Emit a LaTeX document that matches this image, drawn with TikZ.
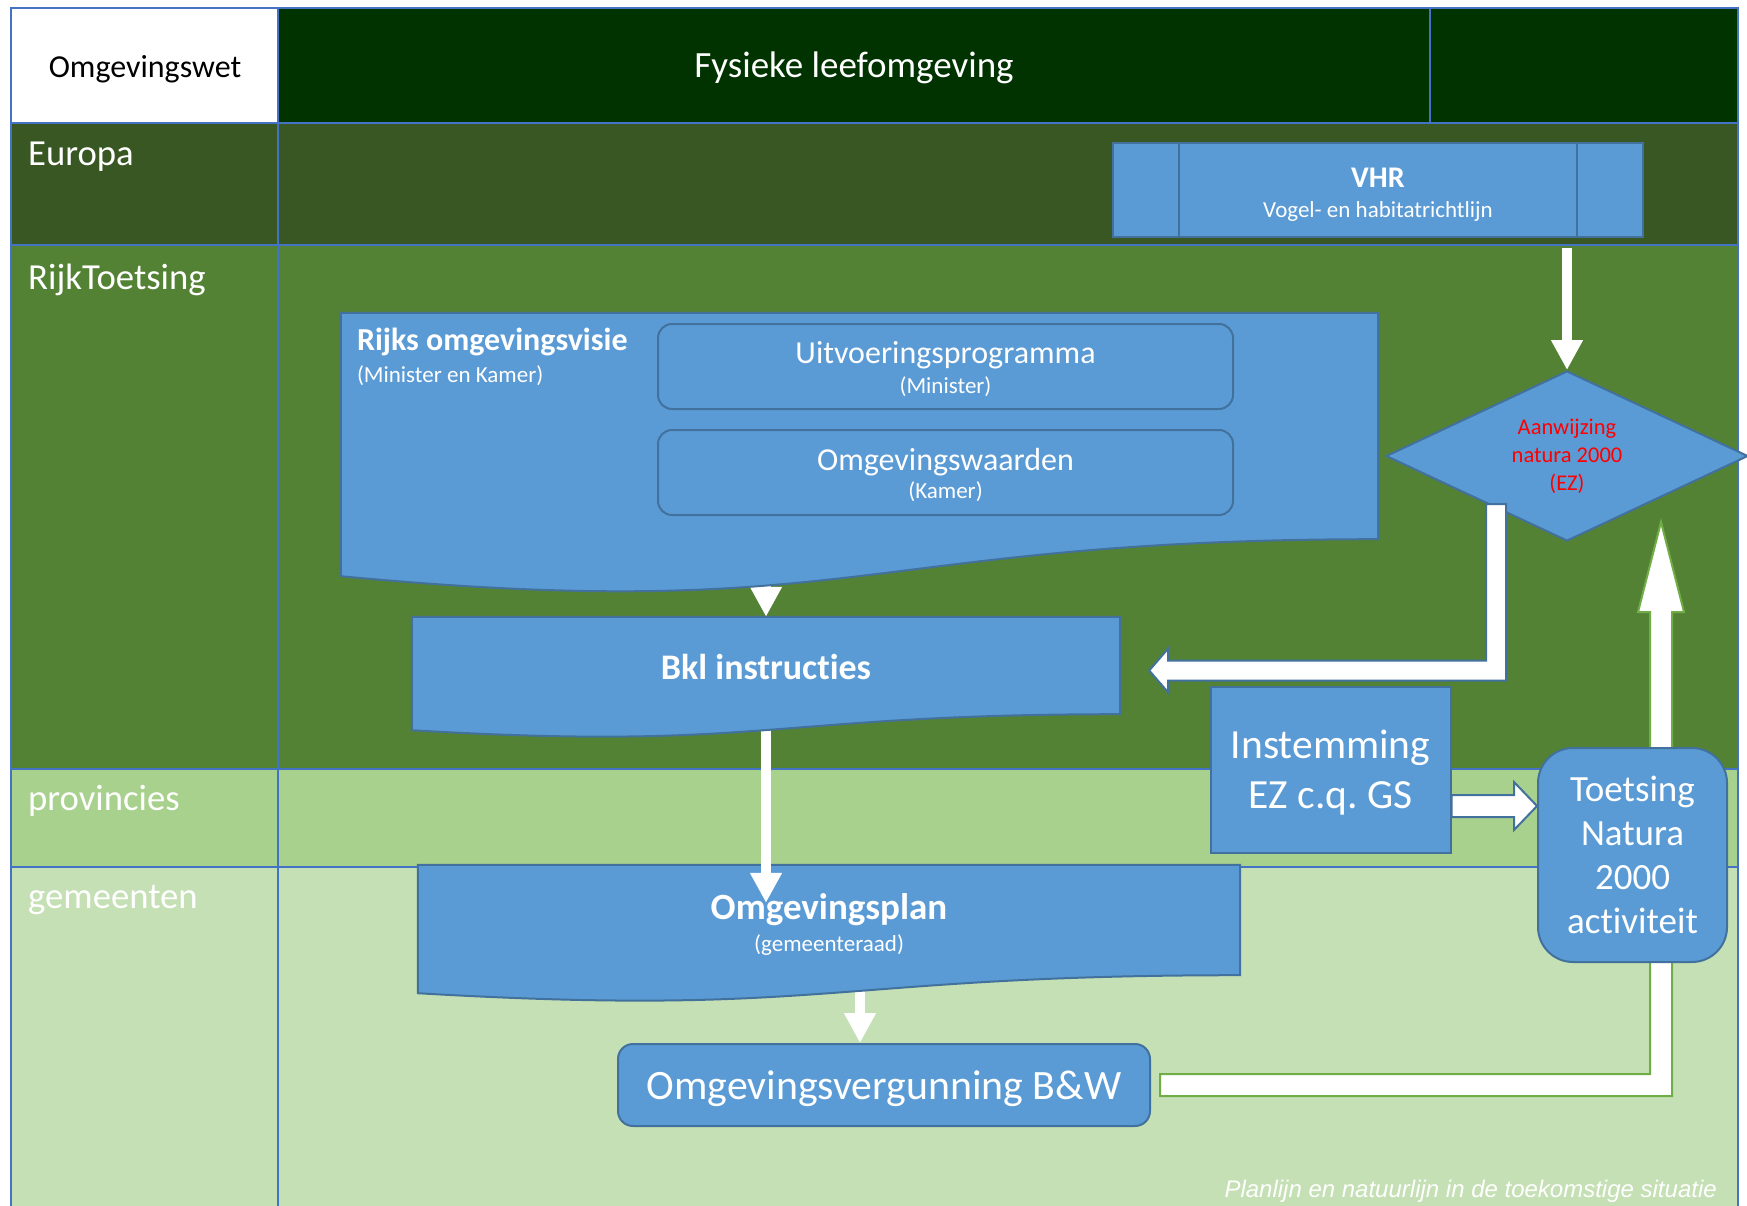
\documentclass[tikz,border=0pt]{standalone}
\usepackage{fontspec}
\setmainfont{Carlito}[Ligatures=NoCommon]
\newfontfamily\captionfont{Liberation Sans}
\usepackage{xcolor}
\usetikzlibrary{arrows.meta,calc,shapes.geometric}
\frenchspacing

\definecolor{hdrgreen}{RGB}{0,51,0}
\definecolor{eurgreen}{RGB}{56,87,35}
\definecolor{rijkgreen}{RGB}{84,130,53}
\definecolor{provgreen}{RGB}{169,209,142}
\definecolor{gemgreen}{RGB}{197,224,180}
\definecolor{boxblue}{RGB}{91,155,213}
\definecolor{boxline}{RGB}{65,113,156}
\definecolor{gridblue}{RGB}{68,114,196}
\definecolor{arrowgreen}{RGB}{112,173,71}

\tikzset{
  lane/.style={draw=gridblue, line width=1.5pt},
  blok/.style={draw=boxline, fill=boxblue, line width=2pt, text=white, inner sep=0pt},
  flow/.style={draw=white, line width=10pt, -{Triangle[width=30pt,length=30pt]}},
  blueblock/.style={draw=boxline, fill=white, line width=2pt},
  greenblock/.style={draw=arrowgreen, fill=white, line width=2pt},
  rowlabel/.style={anchor=base west, inner sep=0pt, text=white, font=\fontsize{36.7}{43}\selectfont},
  boxtext/.style={inner sep=0pt, text=white, align=center},
}

\begin{document}
\begin{tikzpicture}[x=1pt,y=-1pt]
\useasboundingbox (0,0) rectangle (1747,1206);
\fill[white] (0,0) rectangle (1747,1206);

%Shape: Rows
\fill[white] (11,8) rectangle (278,123);
\fill[hdrgreen] (278,8) rectangle (1738,123);
\fill[eurgreen] (11,123) rectangle (1738,245);
\fill[rijkgreen] (11,245) rectangle (1738,769);
\fill[provgreen] (11,769) rectangle (1738,867);
\fill[gemgreen] (11,867) rectangle (1738,1206);
%Shape: Grid
\draw[lane] (11,1206) -- (11,8) -- (1738,8) -- (1738,1206);
\draw[lane] (11,123) -- (1738,123) (11,245) -- (1738,245) (11,769) -- (1738,769) (11,867) -- (1738,867);
\draw[lane] (278,8) -- (278,1206) (1430,8) -- (1430,123);

% Text Node
\node[rowlabel, anchor=base, text=black, font=\fontsize{32}{38}\selectfont] (wet) at (145,78) {Omgevingswet};
\node[rowlabel, anchor=base, font=\fontsize{37}{44}\selectfont] (fys) at (854,78) {Fysieke leefomgeving};
\node[rowlabel] (eur) at (28,166) {Europa};
\node[rowlabel] (rijk) at (28,289) {RijkToetsing};
\node[rowlabel] (prov) at (28,810) {provincies};
\node[rowlabel] (gem) at (28,908) {gemeenten};

%Shape: Predefined process
\node[blok, minimum width=530pt, minimum height=94pt, align=center, font=\fontsize{23}{30}\selectfont] (vhr) at (1378,190)
  {{\bfseries\fontsize{30}{30}\selectfont\rule{0pt}{29pt}VHR}\\Vogel- en habitatrichtlijn};
\draw[boxline, line width=2pt] ($(vhr.north west)+(67,0)$) -- ($(vhr.south west)+(67,0)$)
  ($(vhr.north east)+(-67,0)$) -- ($(vhr.south east)+(-67,0)$);

%Shape: Diamond
\node[blok, diamond, aspect=2.13, minimum width=362pt, minimum height=170pt, text=red, align=center,
  font=\fontsize{22.5}{28}\selectfont] (nat) at (1567,456) {Aanwijzing\\natura 2000\\(EZ)};
\draw[flow] ($(nat.north |- vhr.south)+(0,10)$) -- (nat.north);

%Shape: Rounded Rectangle
\node[blok, rounded corners=15pt, minimum width=532pt, minimum height=82pt, text depth=0pt,
  font=\fontsize{41.8}{49}\selectfont] (verg) at (884,1085) {Omgevingsvergunning B\&W};

% vergunning -> toetsing -> aanwijzing
\coordinate (up-s) at ($(verg.east)+(9,0)$);
\coordinate (up-t) at ($(nat.south)+(94,-20)$);
\draw[greenblock] ($(up-s)+(0,-11)$) -| ($(up-t)+(-11,90)$) -- ++(-12,0) -- (up-t) -- ++(23,90) -- ++(-12,0)
  |- ($(up-s)+(0,11)$) -- cycle;

\node[blok, rounded corners=35pt, minimum width=189pt, minimum height=214pt, align=center,
  font=\fontsize{37}{44}\selectfont] (toets) at (1632.5,855) {Toetsing\\Natura\\2000\\activiteit};

\node[blok, minimum width=240pt, minimum height=166pt, align=center,
  font=\fontsize{41.5}{50}\selectfont] (inst) at (1330.5,770) {\rule{0pt}{34pt}Instemming\\EZ c.q. GS};
\coordinate (ia-s) at ($(inst.east)+(0,36)$);
\coordinate (ia-t) at (toets.west |- ia-s);
\draw[blueblock] ($(ia-s)+(0,-11)$) -- ($(ia-t)+(-23,-11)$) -- ++(0,-13) -- (ia-t) -- ($(ia-t)+(-23,24)$)
  -- ++(0,-13) -- ($(ia-s)+(0,11)$) -- cycle;

%Shape: Documents
\node[inner sep=0pt, minimum width=1037pt, minimum height=226pt] (rov) at (859.5,426) {};
\node[inner sep=0pt, minimum width=708pt, minimum height=97pt] (bkl) at (766,665.5) {};
\node[inner sep=0pt, minimum width=822pt, minimum height=110pt] (plan) at (829,920) {};

\coordinate (pv) at ($(plan.south)+(31,0)$);
\draw[flow] (pv) -- (pv |- verg.north);
\draw[blok] (plan.north west) -- (plan.north east) -- (plan.south east)
  .. controls (plan.south) and ($(plan.south)+(0,42)$) .. ($(plan.south west)+(0,18)$) -- cycle;
\node[boxtext, font=\fontsize{23}{32}\selectfont] (plan-t) at ($(plan)+(0,4)$)
  {{\bfseries\fontsize{37}{32}\selectfont Omgevingsplan}\\(gemeenteraad)};
\draw[flow] (bkl.south) -- ($(bkl.south |- plan.north)+(0,38)$);

\draw[flow] ($(bkl.north)+(0,-60)$) -- (bkl.north);
\draw[blok] (rov.north west) -- (rov.north east) -- (rov.south east)
  .. controls (rov.south) and ($(rov.south)+(0,86)$) .. ($(rov.south west)+(0,37)$) -- cycle;
\draw[blok] (bkl.north west) -- (bkl.north east) -- (bkl.south east)
  .. controls (bkl.south) and ($(bkl.south)+(0,37)$) .. ($(bkl.south west)+(0,16)$) -- cycle;
\node[boxtext, text depth=0pt, font=\bfseries\fontsize{36}{43}\selectfont] (bkl-t) at ($(bkl)+(0,1)$) {Bkl instructies};

% Text Node
\node[anchor=base west, inner sep=0pt, text=white, font=\bfseries\fontsize{32}{38}\selectfont] (rov-t)
  at ($(rov.north west)+(16,38)$) {Rijks omgevingsvisie};
\node[anchor=base west, inner sep=0pt, text=white, font=\fontsize{23}{28}\selectfont] (rov-s)
  at ($(rov.north west)+(16,70)$) {(Minister en Kamer)};

\node[blok, rounded corners=14pt, minimum width=575pt, minimum height=85pt, align=center,
  font=\fontsize{23}{30}\selectfont] (uit) at (945.5,366.5)
  {{\fontsize{32}{30}\selectfont\rule{0pt}{27pt}Uitvoeringsprogramma}\\(Minister)};
\node[blok, rounded corners=14pt, minimum width=575pt, minimum height=85pt, align=center,
  font=\fontsize{23}{28}\selectfont] (ow) at (945.5,472.5)
  {{\fontsize{32}{28}\selectfont\rule{0pt}{28pt}Omgevingswaarden}\\(Kamer)};

% aanwijzing -> Bkl instructies
\coordinate (el-s) at ($(nat.south)+(-71,-38)$);
\coordinate (el-t) at ($(bkl.east)+(29,5)$);
\draw[blueblock] ($(el-s)+(-10,0)$) -- ($(el-s)+(10,0)$) |- ($(el-t)+(19,10)$) -- ++(0,12) -- (el-t)
  -- ++(19,-22) -- ++(0,12) -| ($(el-s)+(-10,0)$) -- cycle;

% Text Node
\node[anchor=base east, inner sep=0pt, text=white, font=\captionfont\itshape\fontsize{24}{28}\selectfont] (cap)
  at (1717,1197) {Planlijn en natuurlijn in de toekomstige situatie};
\end{tikzpicture}
\end{document}
